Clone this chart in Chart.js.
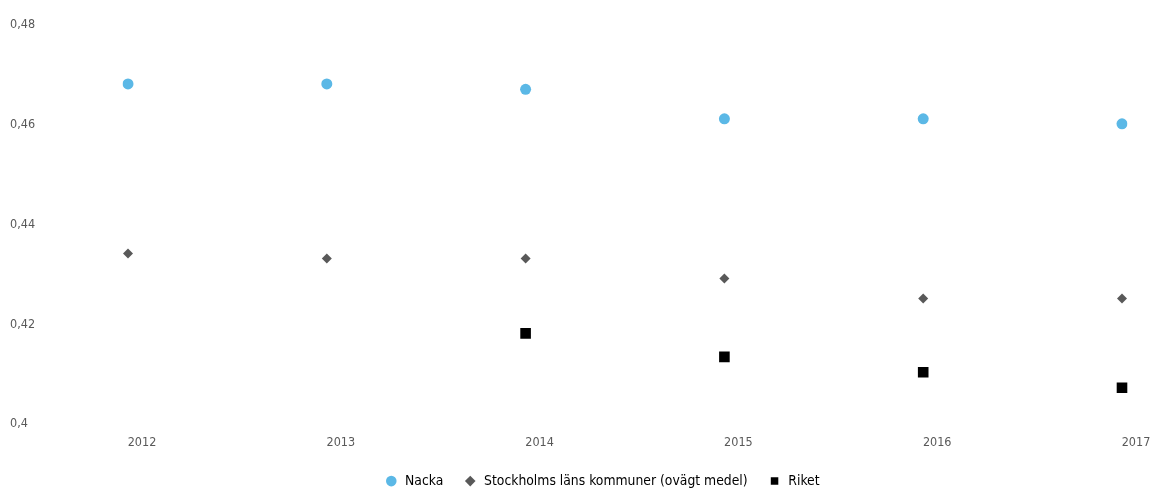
<!DOCTYPE html>
<html>
<head>
<meta charset="utf-8">
<script src="https://cdn.jsdelivr.net/npm/chart.js@4"></script>
<style>
  html, body { margin: 0; padding: 0; background: #fff; }
  #wrap { width: 1153px; height: 488px; }
</style>
</head>
<body>
<div id="wrap"><canvas id="myChart"></canvas></div>
<script>
const years = ["2012", "2013", "2014", "2015", "2016", "2017"];
const nacka = [0.4682, 0.4682, 0.4671, 0.4612, 0.4612, 0.4602];
const stockholm = [0.4342, 0.4332, 0.4332, 0.4292, 0.4252, 0.4252];
const riket = [null, null, 0.4182, 0.4135, 0.4104, 0.4073];

const ctx = document.getElementById("myChart");

// legend sits a little lower and a little right of centre
const legendShift = {
  id: "legendShift",
  beforeInit(chart) {
    const fit = chart.legend.fit;
    chart.legend.fit = function () {
      fit.call(this);
      this.height -= 10;
    };
  },
  afterLayout(chart) {
    chart.legend.left += 36;
    chart.legend.right += 36;
  },
};

new Chart(ctx, {
  type: "line",
  data: {
    labels: years,
    datasets: [
      {
        label: "Nacka",
        data: nacka,
        showLine: false,
        pointStyle: "circle",
        pointRadius: 5.5,
        backgroundColor: "#5bb8e6",
        borderColor: "#5bb8e6",
        borderWidth: 0,
      },
      {
        label: "Stockholms läns kommuner (ovägt medel)",
        data: stockholm,
        showLine: false,
        pointStyle: "rectRot",
        pointRadius: 5,
        backgroundColor: "#595959",
        borderColor: "#595959",
        borderWidth: 0,
      },
      {
        label: "Riket",
        data: riket,
        showLine: false,
        pointStyle: "rect",
        pointRadius: 7.5,
        backgroundColor: "#000000",
        borderColor: "#000000",
        borderWidth: 0,
      },
    ],
  },
  options: {
    responsive: true,
    maintainAspectRatio: false,
    animation: false,
    layout: { padding: { left: 10, right: 31, top: 25, bottom: 0 } },
    scales: {
      x: {
        offset: false,
        grid: { display: false },
        border: { display: false },
        ticks: {
          color: "#595959",
          font: { family: "DejaVu Sans Condensed", size: 12.5 },
          maxRotation: 0,
          labelOffset: 14,
          padding: 3.5,
        },
      },
      y: {
        min: 0.4,
        max: 0.48,
        grid: { display: false },
        border: { display: false },
        afterFit: (axis) => { axis.width = 118; },
        ticks: {
          stepSize: 0.02,
          crossAlign: "far",
          color: "#595959",
          font: { family: "DejaVu Sans Condensed", size: 12.5 },
          callback: (v) => String(Math.round(v * 100) / 100).replace(".", ","),
        },
      },
    },
    plugins: {
      tooltip: { enabled: false },
      legend: {
        position: "bottom",
        labels: {
          usePointStyle: true,
          boxWidth: 18,
          boxHeight: 7.5,
          padding: 20,
          color: "#000",
          font: { family: "DejaVu Sans Condensed", size: 13.8 },
        },
      },
    },
  },
  plugins: [legendShift],
});
</script>
</body>
</html>
